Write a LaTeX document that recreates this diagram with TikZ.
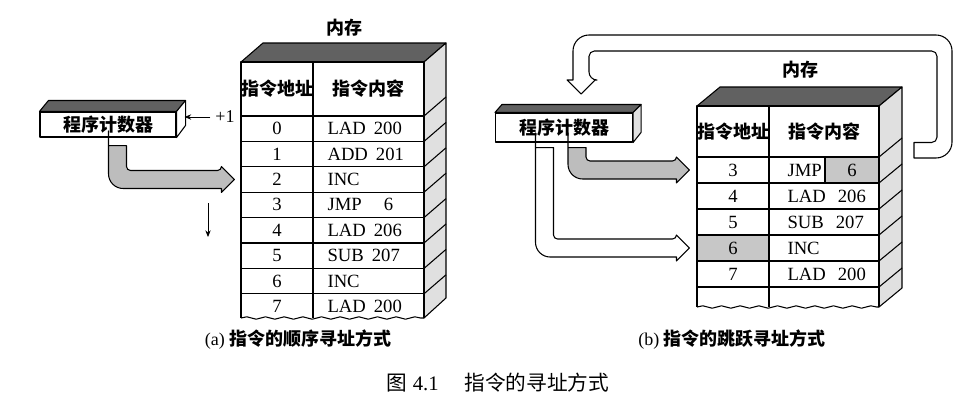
\documentclass[tikz,border=0pt]{standalone}
\usepackage{fontspec}
\setmainfont{Liberation Serif}
\newfontfamily\cjk{Noto Sans CJK SC}
\usetikzlibrary{arrows.meta,calc,decorations.pathmorphing}
\definecolor{Lid}{gray}{0.38}
\definecolor{Side}{gray}{0.88}
\definecolor{Band}{gray}{0.74}
\definecolor{Mark}{gray}{0.78}

\tikzset{
  pc/.style={draw,fill=white,inner sep=0pt,font=\cjk\bfseries\fontsize{13.5}{16}\selectfont},
  head/.style={font=\cjk\bfseries\fontsize{13.5}{16}\selectfont},
  addr/.style={minimum width=54pt,minimum height=19pt,inner sep=0pt,font=\fontsize{14}{16}\selectfont},
  cont/.style={anchor=west,inner sep=0pt,font=\fontsize{14}{16}\selectfont},
  subcap/.style={font=\fontsize{13.5}{16}\selectfont},
  wavy/.style={decorate,decoration={snake,amplitude=0.9pt,segment length=14pt}},
  thin arrow/.style={-{Stealth[length=5pt,width=4pt]},line width=0.6pt},
}

% L-shaped block arrow: start (top of the stem), tip, fill
\newcommand{\bendarrow}[3]{%
  \filldraw[fill=#3] ($(#1)+(-9,0)$) -- ($(#1)+(9,0)$) [rounded corners=3pt]
    |- ($(#2)+(-13,-9)$) [sharp corners] -- ($(#2)+(-13,-13)$) -- (#2)
    -- ($(#2)+(-13,13)$) -- ($(#2)+(-13,9)$) [rounded corners=11pt]
    -| ($(#1)+(-9,0)$) [sharp corners] -- cycle;}

\begin{document}
\begin{tikzpicture}[x=0.75pt,y=-0.75pt,line width=0.8pt,line join=round]
\useasboundingbox (0,0) rectangle (973,404);

% ---------------- (a) sequential addressing ----------------
\node[pc,minimum width=102pt,minimum height=18.75pt] (pcA) at (108,124.5) {程序计数器};
\filldraw[fill=Lid] (pcA.north west) -- ++(9,-11) -- ($(pcA.north east)+(9,-11)$) -- (pcA.north east) -- cycle;
\filldraw[fill=white] (pcA.north east) -- ++(9,-11) -- ++(0,25) -- (pcA.south east) -- cycle;
\node[font=\fontsize{13.5}{15}\selectfont] (incA) at (225,117) {+1};
\coordinate (sideA) at ($(pcA.east)+(8,-7)$);
\draw[thin arrow] (incA.west) -- (incA.west -| sideA);

% memory block
\filldraw[fill=Lid] (241,62) -- (263,43) -- (446,43) -- (424,62) -- cycle;
\filldraw[fill=Side] (424,62) -- (446,43) -- (446,298) -- (424,318) -- cycle;
\fill[white] (241,62) rectangle (424,318);
\draw (241,318) -- (241,62) -- (424,62) -- (424,318);
\draw[wavy] (241,318) -- (424,318);
\draw (313,62) -- (313,318);
\foreach \k in {0,...,7} {
  \draw (241,116+25.4*\k) -- (424,116+25.4*\k);
  \draw (424,116+25.4*\k) -- ++(22,-19);
}
\node[head] (memA) at (344,28) {内存};
\node[head] (aH1) at (277,89) {指令地址};
\node[head] (aH2) at (368.5,89) {指令内容};
\foreach \a/\c in {0/LAD\hspace{6pt}200,1/ADD\hspace{6pt}201,2/INC,3/JMP\hspace{16.5pt}6,
                   4/LAD\hspace{6pt}206,5/SUB\hspace{6pt}207,6/INC,7/LAD\hspace{6pt}200} {
  \node[addr] (a\a) at (277,128.7+25.4*\a) {\a};
  \node[cont] (ac\a) at (327,128.7+25.4*\a) {\c};
}

\coordinate (inA) at ($(pcA.south)+(9.5,8)$);
\coordinate (tipA) at ($(a2.west)+(-6,0)$);
\bendarrow{inA}{tipA}{Band}
\coordinate (stepA) at (208,203);
\draw[thin arrow] (stepA) -- ++(0,34);

\node[subcap] (capA) at (298,340) {(a) {\cjk\bfseries 指令的顺序寻址方式}};

% ---------------- (b) jump addressing ----------------
\node[pc,minimum width=102.75pt,minimum height=21.75pt] (pcB) at (564,127.5) {程序计数器};
\filldraw[fill=Lid] (pcB.north west) -- ++(7,-8) -- ($(pcB.north east)+(8,-8)$) -- (pcB.north east) -- cycle;
\filldraw[fill=Side] (pcB.north east) -- ++(8,-8) -- ++(0,28) -- (pcB.south east) -- cycle;

% memory block
\filldraw[fill=Lid] (697,106) -- (720,87) -- (902,87) -- (879,106) -- cycle;
\filldraw[fill=Side] (879,106) -- (902,87) -- (902,288) -- (879,307) -- cycle;
\fill[white] (697,106) rectangle (879,307);
\fill[Mark] (825,157) rectangle (879,183);
\fill[Mark] (697,235) rectangle (769,261);
\draw (697,307) -- (697,106) -- (879,106) -- (879,307);
\draw[wavy] (697,307) -- (879,307);
\draw (769,106) -- (769,307);
\draw (825,157) -- (825,183);
\foreach \k in {0,...,5} {
  \draw (697,157+26*\k) -- (879,157+26*\k);
  \draw (879,157+26*\k) -- ++(23,-19);
}
\node[head] (memB) at (800,70) {内存};
\node[head] (bH1) at (733,131.5) {指令地址};
\node[head] (bH2) at (824,131.5) {指令内容};
\foreach \a/\c [count=\k from 0] in {3/JMP,4/LAD\hspace{9pt}206,5/SUB\hspace{9pt}207,6/INC,7/LAD\hspace{9pt}200} {
  \node[addr] (b\a) at (733,170+26*\k) {\a};
  \node[cont] (bc\a) at (787,170+26*\k) {\c};
}
\node[addr,minimum width=40pt] (bJ) at (852,170) {6};

\coordinate (inB) at ($(pcB.south)+(13,5)$);
\coordinate (tipB) at ($(b3.west)+(-7,0)$);
\bendarrow{inB}{tipB}{Band}
\coordinate (seqB) at ($(pcB.south)+(-19.5,5)$);
\coordinate (jmpB) at ($(b6.west)+(-7,0)$);
\bendarrow{seqB}{jmpB}{white}

% loop back from the jump target to the counter
\coordinate (loopS) at (914,150);
\coordinate (loopT) at (581,94);
\filldraw[fill=white] ($(loopS)+(0,-7.5)$) [rounded corners=4pt] -- ($(loopS)+(23,-7.5)$)
  |- ($(loopT)+(8,-43)$) [rounded corners=6pt] -- ($(loopT)+(8,-14)$) [sharp corners]
  -- ($(loopT)+(14,-14)$) -- (loopT) -- ($(loopT)+(-14,-14)$) -- ($(loopT)+(-8,-14)$)
  [rounded corners=12pt] |- ($(loopS)+(38,-115)$) -- ($(loopS)+(38,8)$)
  [sharp corners] -- ($(loopS)+(0,8)$) -- cycle;

\node[subcap] (capB) at (732,340) {(b) {\cjk\bfseries 指令的跳跃寻址方式}};

\node[font=\fontsize{15.5}{18}\selectfont] (fig) at (498,383) {{\cjk 图} 4.1\quad\ {\cjk 指令的寻址方式}};
\end{tikzpicture}
\end{document}
